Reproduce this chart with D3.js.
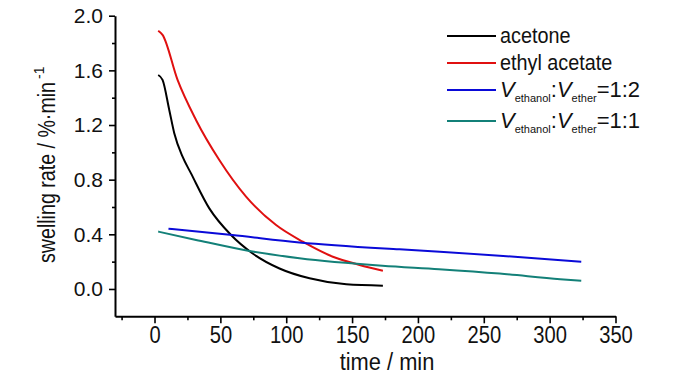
<!DOCTYPE html>
<html>
<head>
<meta charset="utf-8">
<script src="https://cdn.jsdelivr.net/npm/d3@7"></script>
<style>
  html, body { margin: 0; padding: 0; background: #fff; }
  svg { display: block; }
  text { font-family: "Liberation Sans Narrow", "Liberation Sans", Arial, sans-serif; fill: #111; }
</style>
</head>
<body>
<svg id="chart" width="700" height="375"></svg>
<script>
// ---- data ----
const acetoneT   = [2.8, 6.1, 11.2, 15, 21.3, 27.7, 41.6, 58.1, 74.5, 94.9, 117.7, 145.6, 173.4];
const acetoneV   = [1.566, 1.53, 1.31, 1.14, 0.968, 0.846, 0.59, 0.395, 0.26, 0.15, 0.078, 0.034, 0.024];
const ethylT     = [2.8, 6.1, 17.5, 31.5, 49.2, 69.5, 92.3, 112.6, 135.4, 155.7, 173.4];
const ethylV     = [1.89, 1.86, 1.53, 1.237, 0.944, 0.676, 0.468, 0.346, 0.236, 0.176, 0.134];
const eth12T     = [10.6, 59, 110, 186, 216.6, 262, 324];
const eth12V     = [0.441, 0.395, 0.341, 0.29, 0.273, 0.244, 0.2];
const eth11T     = [2.8, 31.5, 72, 110, 173, 216, 262, 308, 324];
const eth11V     = [0.42, 0.359, 0.278, 0.225, 0.17, 0.145, 0.113, 0.072, 0.061];

const xMajor = [0, 50, 100, 150, 200, 250, 300, 350];
const xMinor = [-25, 25, 75, 125, 175, 225, 275, 325];
const yMajor = [0.0, 0.4, 0.8, 1.2, 1.6, 2.0];
const yMinor = [0.2, 0.6, 1.0, 1.4, 1.8];

const seriesNames  = ["acetone", "ethyl acetate", "ratio12", "ratio11"];
const seriesColors = ["#000000", "#e01010", "#0a0ad8", "#138078"];

const xTitle = "time / min";
const yTitle = "swelling rate / %\u00B7min";
const yTitleSup = "-1";

// ---- layout ----
const svg = d3.select("#chart");
const x = d3.scaleLinear().domain([-30, 350]).range([115, 615.5]);
const y = d3.scaleLinear().domain([-0.2, 2.0]).range([316.3, 15.7]);

function squeeze(sel, f) {
  sel.each(function() {
    const len = this.getComputedTextLength();
    d3.select(this).attr("textLength", len * f).attr("lengthAdjust", "spacingAndGlyphs");
  });
}

// minor ticks
svg.append("g").attr("transform", `translate(0,${y(-0.2)})`)
  .call(d3.axisBottom(x).tickValues(xMinor).tickSize(4).tickSizeOuter(0).tickFormat(""))
  .call(g => g.select(".domain").remove())
  .call(g => g.selectAll("line").attr("stroke", "#000").attr("stroke-width", 1.6));
svg.append("g").attr("transform", `translate(${x(-30)},0)`)
  .call(d3.axisLeft(y).tickValues(yMinor).tickSize(3).tickSizeOuter(0).tickFormat(""))
  .call(g => g.select(".domain").remove())
  .call(g => g.selectAll("line").attr("stroke", "#000").attr("stroke-width", 1.6));

// major axes
const gx = svg.append("g").attr("transform", `translate(0,${y(-0.2)})`)
  .call(d3.axisBottom(x).tickValues(xMajor).tickSize(7).tickPadding(3).tickSizeOuter(0).tickFormat(d3.format("d")));
gx.select(".domain").attr("stroke", "#000").attr("stroke-width", 2);
gx.selectAll("line").attr("stroke", "#000").attr("stroke-width", 1.6);
gx.selectAll("text").attr("font-size", 24).attr("font-family", "Liberation Sans Narrow").attr("fill", "#111");
squeeze(gx.selectAll("text"), 0.84);

const gy = svg.append("g").attr("transform", `translate(${x(-30)},0)`)
  .call(d3.axisLeft(y).tickValues(yMajor).tickSize(6).tickPadding(6).tickSizeOuter(0).tickFormat(d3.format(".1f")));
gy.select(".domain").attr("stroke", "#000").attr("stroke-width", 2);
gy.selectAll("line").attr("stroke", "#000").attr("stroke-width", 1.6);
gy.selectAll("text").attr("font-size", 21).attr("font-family", "Liberation Sans Narrow").attr("fill", "#111");

// axis titles
const xt = svg.append("text").attr("x", 387).attr("y", 370).attr("text-anchor", "middle")
  .attr("font-size", 23).text(xTitle);
squeeze(xt, 0.95);

const yt = svg.append("text").attr("transform", "translate(55,263) rotate(-90)")
  .attr("font-family", "Liberation Sans Narrow").attr("font-size", 23);
yt.append("tspan").attr("textLength", 181).attr("lengthAdjust", "spacingAndGlyphs").text(yTitle);
yt.append("tspan").attr("font-size", 14).attr("dy", -11).attr("dx", 3).text(yTitleSup);

// lines
const line = d3.line().x(d => x(d[0])).y(d => y(d[1])).curve(d3.curveMonotoneX);
const series = [
  d3.zip(acetoneT, acetoneV),
  d3.zip(ethylT, ethylV),
  d3.zip(eth12T, eth12V),
  d3.zip(eth11T, eth11V)
];
svg.append("g").selectAll("path").data(series).join("path")
  .attr("d", line).attr("fill", "none")
  .attr("stroke", (d, i) => seriesColors[i]).attr("stroke-width", 2)
  .attr("stroke-linejoin", "round");

// legend
const legY = [36, 63, 90, 121];
const lg = svg.append("g");
seriesNames.forEach((name, i) => {
  lg.append("line").attr("x1", 447).attr("x2", 496).attr("y1", legY[i]).attr("y2", legY[i])
    .attr("stroke", seriesColors[i]).attr("stroke-width", 2);
  const t = lg.append("text").attr("x", 500).attr("y", legY[i] + 7).attr("font-size", 22);
  if (i < 2) {
    t.text(name);
    squeeze(t, 0.9);
  } else {
    const ratio = i === 2 ? "=1:2" : "=1:1";
    t.append("tspan").attr("font-style", "italic").text("V");
    t.append("tspan").attr("font-size", 11).attr("dy", 5).text("ethanol");
    t.append("tspan").attr("dy", -5).text(":");
    t.append("tspan").attr("font-style", "italic").text("V");
    t.append("tspan").attr("font-size", 11).attr("dy", 5).text("ether");
    t.append("tspan").attr("dy", -5).text(ratio);
  }
});
</script>
</body>
</html>
